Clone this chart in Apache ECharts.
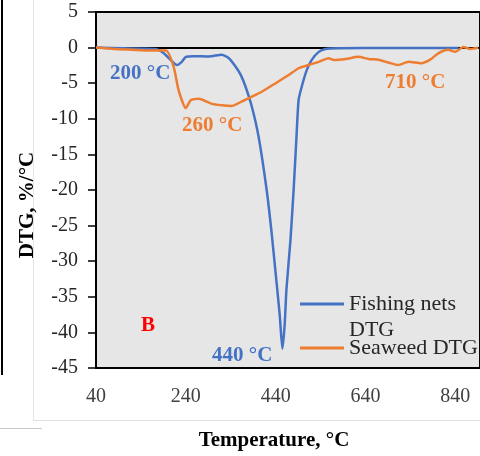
<!DOCTYPE html>
<html><head><meta charset="utf-8">
<script src="https://cdn.jsdelivr.net/npm/echarts@6/dist/echarts.min.js"></script>
<style>html,body{margin:0;padding:0;background:#fff}#c{width:480px;height:456px}</style>
</head><body><div id="c"></div>
<script>
const seriesNames = ['Fishing nets DTG', 'Seaweed DTG'];
const fishingNets = [[40,0],[100,-0.1],[173,-0.2],[191,-0.8],[207,-1.8],[220,-2.45],[231,-2.0],[240,-1.3],[258,-1.2],[291,-1.25],[320,-1.0],[336,-1.5],[351,-2.7],[362,-3.8],[373,-5.5],[387,-8.3],[402,-12.5],[420,-20],[431,-26],[440,-31.7],[449,-37.5],[455,-42.3],[460,-39],[464,-34],[473,-27],[480,-20],[486,-13],[491,-7.4],[498,-5.5],[509,-3.2],[520,-1.75],[536,-0.6],[551,-0.2],[580,-0.1],[700,-0.05],[847,-0.05]];
const seaweed = [[40,0],[80,-0.2],[120,-0.3],[160,-0.4],[196,-0.4],[213,-2.7],[224,-6],[240,-8.5],[251,-7.4],[269,-7.2],[298,-7.9],[320,-8.1],[342,-8.2],[364,-7.6],[387,-6.9],[409,-6.2],[440,-5],[469,-3.85],[491,-2.9],[513,-2.45],[536,-2.0],[558,-1.5],[569,-1.75],[596,-1.6],[624,-1.3],[647,-1.6],[669,-1.7],[691,-2.1],[713,-2.45],[736,-2.0],[764,-2.2],[784,-1.7],[802,-0.8],[824,-0.3],[840,-0.6],[858,0.1],[873,-0.2],[891,0]];
const annotations = [
  {text:'200 °C', left:110, top:63, color:'#4472C4'},
  {text:'260 °C', left:182, top:115, color:'#ED7D31'},
  {text:'710 °C', left:385, top:72, color:'#ED7D31'},
  {text:'440 °C', left:212, top:345, color:'#4472C4'},
  {text:'B', left:141, top:315, color:'#FF0000'}
];
const xName = 'Temperature, °C';
const yName = 'DTG, %/°C';

const serif = '"Liberation Serif", "Times New Roman", serif';
const chart = echarts.init(document.getElementById('c'));
const graphics = [
  {type:'line', shape:{x1:2,y1:0,x2:2,y2:375}, style:{stroke:'#000',lineWidth:2}},
  {type:'line', shape:{x1:0,y1:428.5,x2:42,y2:428.5}, style:{stroke:'#c8c8c8',lineWidth:1}},
  {type:'line', shape:{x1:33.5,y1:0,x2:33.5,y2:420}, style:{stroke:'#e6e6e6',lineWidth:1}},
  {type:'line', shape:{x1:33,y1:420.5,x2:480,y2:420.5}, style:{stroke:'#e0e0e0',lineWidth:1}}
].concat(annotations.map(a => ({
  type:'text', left:a.left, top:a.top, z:10,
  style:{text:a.text, fill:a.color, font:'bold 21px ' + serif}
})));

chart.setOption({
  animation:false,
  backgroundColor:'#fff',
  grid:{left:96, top:12, right:-2, bottom:88, show:true, backgroundColor:'#e7e6e6', borderColor:'#000', borderWidth:2},
  legend:[
    {data:[seriesNames[0]], left:300, top:265, padding:0, orient:'vertical', icon:'rect', itemWidth:44, itemHeight:3,
     formatter: n => '\nFishing nets\nDTG',
     textStyle:{fontFamily:serif, fontSize:22, color:'#262626', lineHeight:26}},
    {data:[seriesNames[1]], left:300, top:335, padding:0, orient:'vertical', icon:'rect', itemWidth:44, itemHeight:3,
     textStyle:{fontFamily:serif, fontSize:22, color:'#262626', lineHeight:26}}
  ],
  xAxis:{type:'value', min:40, max:895, interval:200,
    name:xName, nameLocation:'middle', nameGap:62,
    nameTextStyle:{fontFamily:serif, fontSize:21, fontWeight:'bold', color:'#000', padding:[0,28,0,0]},
    axisLine:{lineStyle:{color:'#000', width:2}}, axisTick:{show:false},
    axisLabel:{fontFamily:serif, fontSize:20, color:'#404040', margin:19, showMaxLabel:false},
    splitLine:{show:false}},
  yAxis:{type:'value', min:-45, max:5, interval:5,
    name:yName, nameLocation:'middle', nameGap:58,
    nameTextStyle:{fontFamily:serif, fontSize:21, fontWeight:'bold', color:'#000', padding:[0,30,0,0]},
    axisLine:{show:true, lineStyle:{color:'#000', width:2}},
    axisTick:{show:true, inside:false, length:8, lineStyle:{color:'#000', width:1.5}},
    axisLabel:{fontFamily:serif, fontSize:20, color:'#262626', margin:18},
    splitLine:{show:false}},
  series:[
    {name:seriesNames[0], type:'line', data:fishingNets, symbol:'none', smooth:0.2, color:'#4472C4', lineStyle:{width:2.5, color:'#4472C4'}},
    {name:seriesNames[1], type:'line', data:seaweed, symbol:'none', smooth:0.2, color:'#ED7D31', lineStyle:{width:2.5, color:'#ED7D31'}}
  ],
  graphic:graphics
});
</script></body></html>
